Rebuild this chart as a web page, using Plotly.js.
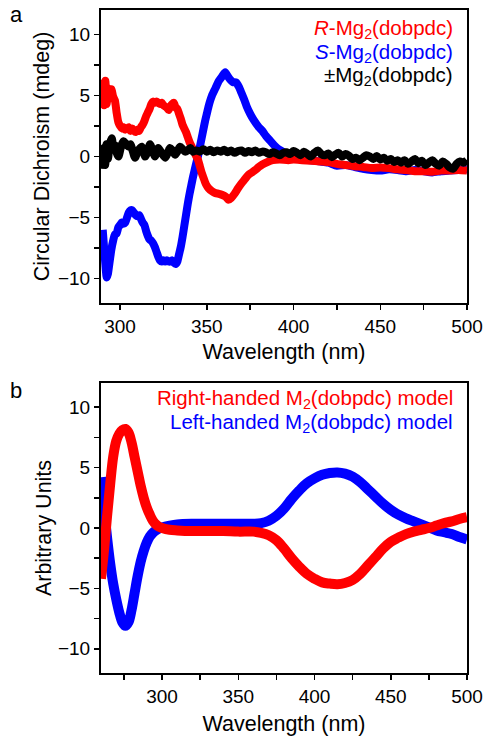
<!DOCTYPE html>
<html>
<head>
<meta charset="utf-8">
<script src="https://cdn.plot.ly/plotly-3.0.1.min.js"></script>
<style>html,body{margin:0;padding:0;background:#fff;}#chart{width:492px;height:741px;}</style>
</head>
<body>
<div id="chart"></div>
<script>
// ---------- Panel a: measured CD spectra ----------
const waveRedA = [290,290.8,291.5,292.3,
  293,294,295,296,297,298,299,
  300,301,302,303,304,305,306,307,308,309,
  310,311,312,313,314,315,316,317,318,319,
  320,321,322,323,324,325,326,327,328,329,
  330,331,332,333,334,335,336,337,338,339,
  340,341,342,343,344,345,346,347,348,349,
  350,351,
  353,355,357,359,361,362.5,364,366,368,370,372,374,376,378,380,382,385,388,392,397,
  400,405,410,415,420,425,430,435,440,445,450,455,460,465,470,475,480,485,490,495,500];
const cdRedA = [6.3,4.2,6.2,4.3,
  5.6,4.8,5.5,4.9,4.6,3.6,2.8,
  2.5,2.3,2.4,2.2,2.3,2.4,2.1,2.3,2.1,2.0,
  2.2,2.1,2.4,2.6,2.9,3.3,3.6,3.9,4.3,4.5,
  4.4,4.5,4.4,4.3,4.4,4.2,4.1,4.0,3.8,4.1,
  4.3,4.4,4.0,3.9,3.5,3.1,2.6,2.3,2.0,1.6,
  1.2,0.9,0.6,0.3,0.0,-0.3,-0.8,-1.3,-1.7,-2.1,
  -2.4,-2.6,
  -2.85,-3.0,-3.05,-3.15,-3.3,-3.55,-3.4,-3.05,-2.6,-2.2,-1.85,-1.5,-1.3,-1.1,-0.85,-0.65,-0.45,-0.3,-0.25,-0.3,
  -0.25,-0.3,-0.35,-0.4,-0.45,-0.6,-0.7,-0.8,-0.85,-0.95,-0.9,-0.95,-1.05,-1.1,-1.2,-1.2,-1.25,-1.15,-1.15,-1.1,-1.15];

const waveBlueA = [290,290.8,291.5,292.3,
  293,294,295,296,297,298,299,
  300,301,302,303,304,305,306,307,308,309,
  310,311,312,313,314,315,316,317,318,319,
  320,321,322,323,324,325,326,327,328,329,
  330,331,332,333,334,335,336,337,338,339,
  340,341,342,343,344,345,346,347,348,349,
  350,351,352,353,355,357,359,360.6,362,363.5,365,367,368.5,
  370,372,373,375,377,380,382,384,386.5,389,391.4,395,398,
  400,405,410,415,420,425,430,435,440,445,450,455,460,465,470,475,480,485,490,495,500];
const cdBlueA = [-6.0,-7.5,-8.8,-9.9,
  -9.6,-8.6,-7.6,-6.9,-6.4,-6.3,-5.8,
  -5.6,-5.4,-5.5,-5.4,-5.0,-4.6,-4.4,-4.4,-4.6,-4.8,
  -4.9,-4.8,-5.1,-5.4,-5.6,-6.1,-6.5,-6.8,-6.9,-7.1,
  -7.4,-7.8,-8.2,-8.5,-8.6,-8.5,-8.6,-8.5,-8.6,-8.6,
  -8.5,-8.7,-8.8,-8.6,-8.0,-7.4,-6.6,-5.7,-4.8,-3.9,
  -3.1,-2.4,-1.7,-1.1,-0.5,0.1,0.8,1.5,2.2,2.9,
  3.5,4.1,4.6,5.0,5.6,6.2,6.6,6.9,6.6,6.3,6.1,6.05,5.7,
  5.2,4.5,4.1,3.5,3.0,2.4,2.1,1.7,1.3,0.9,0.6,0.3,0.05,
  -0.05,-0.25,-0.3,-0.4,-0.5,-0.75,-0.7,-0.85,-1.0,-1.1,-1.15,-1.05,-1.1,-1.2,-1.1,-1.2,-1.3,-1.2,-1.15,-1.1,-1.05];

const waveBlackA = [290,290.7,291.4,292.2,293,294,295.2,296.2,297.2,298,
  299,300.2,301,302,303,304,305,306,307,308,
  308.7,309.8,311,312.5,313.5,314.4,315.8,317.3,318.5,320.2,
  321.2,322,323.5,326,327.5,328.8,330.2,331.7,333,334.6,
  336,337.5,339,340.5,342,
  344,346,348,350,352,354,356,358,360,362,
  364,366,368,370,372,374,376,378,380,382,
  384,386,388,390,392,394,396,398,400,402,
  404,406,408,410,412,414,416,418,420,422,
  424,426,428,430,432,434,436,438,440,442,
  444,446,448,450,452,454,456,458,460,462,
  464,466,468,470,472,474,476,478,480,482,
  484,486,488,490,492,494,496,498,500];
const cdBlackA = [-1.0,0.7,-0.7,1.0,-0.2,1.0,1.5,0.6,0.9,0.3,
  0.0,0.6,1.0,1.25,1.1,0.9,0.8,1.0,0.6,0.1,
  -0.1,0.3,0.6,0.8,0.4,0.0,0.4,1.0,0.6,0.0,
  0.4,0.7,0.4,-0.1,0.3,0.7,0.5,0.15,0.4,0.8,
  0.6,0.4,0.5,0.7,0.4,
  0.5,0.4,0.6,0.4,0.55,0.35,0.5,0.4,0.55,0.35,
  0.5,0.3,0.45,0.5,0.3,0.45,0.35,0.5,0.3,0.4,
  0.35,0.2,0.35,0.25,0.1,0.3,0.35,0.2,0.45,0.3,
  0.1,0.4,0.2,0.0,0.3,0.5,0.2,0.1,0.25,-0.05,
  0.15,0.3,0.0,0.2,0.05,-0.2,-0.1,-0.3,-0.1,0.1,
  0.0,-0.2,0.05,-0.25,-0.1,-0.35,-0.2,-0.45,-0.3,-0.5,
  -0.3,-0.6,-0.4,-0.2,-0.55,-0.35,-0.7,-0.5,-0.3,-0.6,
  -0.75,-0.4,-0.6,-0.9,-1.0,-0.6,-0.4,-0.5,-0.3];

// ---------- Panel b: model spectra ----------
const waveB = [260,262,264,266,268,270,272,274,276,278,
  280,282,284,286,288,290,292,294,296,298,
  300,305,310,320,330,340,350,360,
  365,370,375,380,385,390,395,400,405,410,
  415,420,425,430,435,440,445,450,455,460,
  465,470,475,480,485,490,495,500];
const modelRight = [-4.2,-1.8,1.0,3.6,5.9,7.2,7.8,8.1,8.2,7.9,
  7.1,5.9,4.7,3.5,2.5,1.7,1.1,0.6,0.3,0.1,
  0.0,-0.15,-0.2,-0.25,-0.25,-0.25,-0.3,-0.3,
  -0.4,-0.6,-1.0,-1.7,-2.5,-3.2,-3.8,-4.2,-4.5,-4.6,
  -4.65,-4.55,-4.3,-3.8,-3.1,-2.4,-1.7,-1.15,-0.8,-0.5,
  -0.3,-0.15,0.0,0.2,0.4,0.55,0.75,0.9];
const modelLeft = [4.2,1.6,-0.8,-2.9,-4.6,-5.9,-7.0,-7.8,-8.1,-7.8,
  -6.8,-5.4,-4.0,-2.8,-1.9,-1.2,-0.7,-0.4,-0.2,-0.05,
  0.05,0.2,0.3,0.35,0.35,0.35,0.35,0.35,
  0.4,0.6,1.0,1.6,2.4,3.1,3.7,4.1,4.4,4.55,
  4.6,4.5,4.25,3.8,3.2,2.6,2.0,1.5,1.1,0.8,
  0.55,0.3,0.05,-0.2,-0.35,-0.5,-0.75,-0.95];

// ---------- Text ----------
const labelsA = ['<i>R</i>-Mg<sub>2</sub>(dobpdc)', '<i>S</i>-Mg<sub>2</sub>(dobpdc)', '\u00b1Mg<sub>2</sub>(dobpdc)'];
const labelsB = ['Right-handed M<sub>2</sub>(dobpdc) model', 'Left-handed M<sub>2</sub>(dobpdc) model'];

const RED = 'rgb(255,0,0)', BLUE = 'rgb(0,0,255)', BLACK = '#000000';
const FONT = 'Liberation Sans, Arial, Helvetica, sans-serif';

const traces = [
  {x: waveBlueA, y: cdBlueA, xaxis:'x', yaxis:'y', mode:'lines', line:{color:BLUE, width:8, shape:'spline', smoothing:0.6}},
  {x: waveRedA, y: cdRedA, xaxis:'x', yaxis:'y', mode:'lines', line:{color:RED, width:8, shape:'spline', smoothing:0.6}},
  {x: waveBlackA, y: cdBlackA, xaxis:'x', yaxis:'y', mode:'lines', line:{color:BLACK, width:8, shape:'spline', smoothing:0.8}},
  {x: waveB, y: modelLeft, xaxis:'x2', yaxis:'y2', mode:'lines', line:{color:BLUE, width:10, shape:'spline', smoothing:1}},
  {x: waveB, y: modelRight, xaxis:'x2', yaxis:'y2', mode:'lines', line:{color:RED, width:10, shape:'spline', smoothing:1}}
];

function axisBase(extra) {
  return Object.assign({
    showline:true, linewidth:2, linecolor:'#000', mirror:true,
    ticks:'outside', ticklen:5, tickwidth:1.5, tickcolor:'#000',
    showgrid:false, zeroline:false,
    tickfont:{family:FONT, size:19, color:'#000'}
  }, extra);
}

const layout = {
  width:492, height:741,
  margin:{l:101, r:25, t:10, b:68},
  paper_bgcolor:'#fff', plot_bgcolor:'#fff',
  showlegend:false,
  font:{family:FONT, size:19, color:'#000'},
  xaxis: axisBase({domain:[0,1], anchor:'y', range:[289,500], tick0:300, dtick:50,
    minor:{ticks:'outside', dtick:25, tick0:300, ticklen:5, tickwidth:1.5, tickcolor:'#000', showgrid:false},
    title:{text:'Wavelength (nm)', font:{family:FONT, size:21.5, color:'#000'}, standoff:8}}),
  yaxis: axisBase({domain:[0.558,1], anchor:'x', range:[-12,12], tick0:0, dtick:5,
    minor:{ticks:'outside', dtick:2.5, tick0:0, ticklen:5, tickwidth:1.5, tickcolor:'#000', showgrid:false},
    title:{text:'Circular Dichroism (mdeg)', font:{family:FONT, size:21.5, color:'#000'}, standoff:2}}),
  xaxis2: axisBase({domain:[0,1], anchor:'y2', range:[260,500], tick0:300, dtick:50,
    minor:{ticks:'outside', dtick:25, tick0:300, ticklen:5, tickwidth:1.5, tickcolor:'#000', showgrid:false},
    title:{text:'Wavelength (nm)', font:{family:FONT, size:21.5, color:'#000'}, standoff:10}}),
  yaxis2: axisBase({domain:[0,0.4374], anchor:'x2', range:[-12,12], tick0:0, dtick:5,
    minor:{ticks:'outside', dtick:2.5, tick0:0, ticklen:5, tickwidth:1.5, tickcolor:'#000', showgrid:false},
    title:{text:'Arbitrary Units', font:{family:FONT, size:21.5, color:'#000'}, standoff:0}}),
  annotations: [
    {text:'a', xref:'paper', yref:'paper', x:-0.232, y:0.9925, xanchor:'center', yanchor:'middle', showarrow:false, font:{family:FONT, size:22, color:'#000'}},
    {text:'b', xref:'paper', yref:'paper', x:-0.232, y:0.4268, xanchor:'center', yanchor:'middle', showarrow:false, font:{family:FONT, size:22, color:'#000'}},
    {text:labelsA[0], xref:'paper', yref:'paper', x:0.967, y:0.9714, xanchor:'right', yanchor:'middle', showarrow:false, font:{family:FONT, size:20.5, color:RED}},
    {text:labelsA[1], xref:'paper', yref:'paper', x:0.967, y:0.9351, xanchor:'right', yanchor:'middle', showarrow:false, font:{family:FONT, size:20.5, color:BLUE}},
    {text:labelsA[2], xref:'paper', yref:'paper', x:0.967, y:0.9004, xanchor:'right', yanchor:'middle', showarrow:false, font:{family:FONT, size:20.5, color:BLACK}},
    {text:labelsB[0], xref:'paper', yref:'paper', x:0.967, y:0.4133, xanchor:'right', yanchor:'middle', showarrow:false, font:{family:FONT, size:20.5, color:RED}},
    {text:labelsB[1], xref:'paper', yref:'paper', x:0.967, y:0.3771, xanchor:'right', yanchor:'middle', showarrow:false, font:{family:FONT, size:20.5, color:BLUE}}
  ]
};

Plotly.newPlot('chart', traces, layout, {displayModeBar:false, staticPlot:true});
</script>
</body>
</html>
